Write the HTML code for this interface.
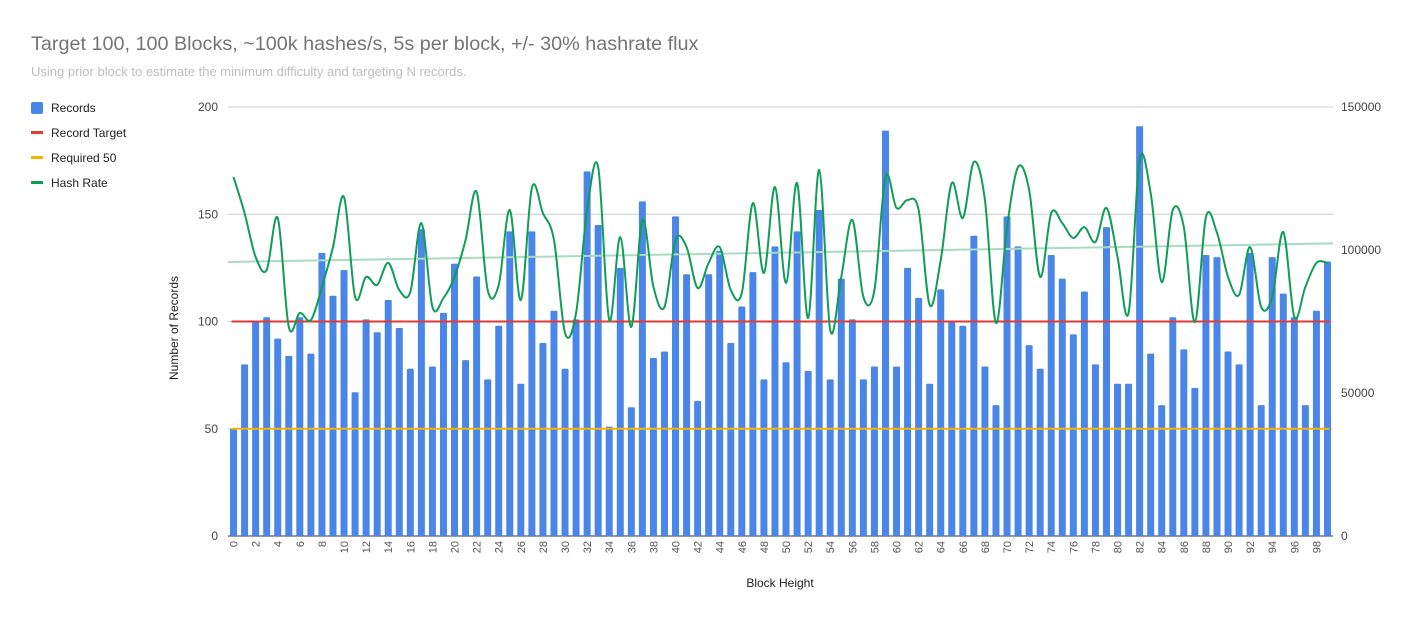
<!DOCTYPE html>
<html><head><meta charset="utf-8">
<style>
body{margin:0;background:#fff;font-family:"Liberation Sans",Arial,sans-serif;}
svg{display:block}
</style></head>
<body>
<svg id="chart" width="1413" height="621" xmlns="http://www.w3.org/2000/svg">
<text x="31" y="50" font-size="19.8" fill="#757575">Target 100, 100 Blocks, ~100k hashes/s, 5s per block, +/- 30% hashrate flux</text>
<text x="31" y="76" font-size="13" fill="#bdbdbd">Using prior block to estimate the minimum difficulty and targeting N records.</text>
<g>
 <g><rect x="31" y="102" width="12" height="12" rx="2" fill="#4a86e8"/><text x="51" y="112" font-size="12" fill="#222">Records</text></g>
 <g><rect x="31" y="131" width="12" height="3" fill="#e53935"/><text x="51" y="137" font-size="12" fill="#222">Record Target</text></g>
 <g><rect x="31" y="156" width="12" height="3" fill="#f4b400"/><text x="51" y="162" font-size="12" fill="#222">Required 50</text></g>
 <g><rect x="31" y="181" width="12" height="3" fill="#0f9d58"/><text x="51" y="187" font-size="12" fill="#222">Hash Rate</text></g>
</g>
<text transform="translate(178,328) rotate(-90)" text-anchor="middle" font-size="12" fill="#222">Number of Records</text>
<text x="780" y="587" text-anchor="middle" font-size="12" fill="#222">Block Height</text>
<g id="grid"></g><g id="bars"></g><g id="lines"></g><g id="labels"></g>
</svg>
<script>
const records=[50,80,100,102,92,84,102,85,132,112,124,67,101,95,110,97,78,143,79,104,127,82,121,73,98,142,71,142,90,105,78,101,170,145,51,125,60,156,83,86,149,122,63,122,133,90,107,123,73,135,81,142,77,152,73,120,101,73,79,189,79,125,111,71,115,100,98,140,79,61,149,135,89,78,131,120,94,114,80,144,71,71,191,85,61,102,87,69,131,130,86,80,132,61,130,113,102,61,105,128];
const hashRate=[125500,112900,97550,93000,111200,73100,78000,75500,87100,101000,118500,83600,90600,87800,95500,86000,85300,109400,80100,83200,90600,103500,120300,86000,87800,114000,82500,121700,112900,103500,71000,78000,114000,129000,75500,104500,73100,110500,87100,80100,103500,101000,86700,95500,101000,86000,85000,116400,92000,122000,88500,123400,76200,128000,72000,90600,110500,83600,86000,125500,114700,117500,114000,80800,96500,123400,111200,130800,117500,74500,108000,129000,121000,90600,112900,109400,104200,108000,102800,114700,97550,78000,131500,119900,88800,114000,108000,74800,111500,106000,90600,84300,101000,80100,83600,106300,76600,87100,95500,95500];
const leftTicks=[0,50,100,150,200];
const rightTicks=[0,50000,100000,150000];
const recordTarget=100, required=50;
const NS="http://www.w3.org/2000/svg";
const X0=228,X1=1333,Y0=536,Y1=107;
const step=(X1-X0)/records.length;
const xc=i=>X0+step*(i+0.5);
const yL=v=>Y0-(v/200)*(Y0-Y1);
const yR=v=>Y0-(v/150000)*(Y0-Y1);
function mk(tag,attrs,parent){const e=document.createElementNS(NS,tag);for(const k in attrs)e.setAttribute(k,attrs[k]);document.getElementById(parent).appendChild(e);return e;}
leftTicks.forEach(t=>{
 const l=mk('line',{x1:X0,x2:X1,y1:yL(t),y2:yL(t),stroke:t===0?'#333':'#ccc','stroke-width':1},'grid');
 
 
 const tx=mk('text',{x:218,y:yL(t)+4,'text-anchor':'end','font-size':12,fill:'#444'},'labels');tx.textContent=t;
 
 
});
rightTicks.forEach(t=>{
 const tx=mk('text',{x:1341,y:yR(t)+4,'font-size':12,fill:'#444'},'labels');tx.textContent=t;
 
 
});
records.forEach((v,i)=>{
 const r=mk('rect',{x:xc(i)-3.5,y:yL(v),width:7,height:Y0-yL(v),fill:'#4a86e8',rx:1},'bars');
 
 
 if(i%2===0){const tx=mk('text',{transform:`translate(${xc(i)+4},541) rotate(-90)`,'text-anchor':'end','font-size':11,fill:'#555'},'labels');tx.textContent=i;
 
 }
});
const n=hashRate.length;let sx=0,sy=0,sxy=0,sxx=0;
hashRate.forEach((v,i)=>{sx+=i;sy+=v;sxy+=i*v;sxx+=i*i;});
const b=(n*sxy-sx*sy)/(n*sxx-sx*sx),a=(sy-b*sx)/n;
const tr=mk('line',{x1:X0,x2:X1,y1:yR(a+b*(-0.5)),y2:yR(a+b*(n-0.5)),stroke:'#a8dcc0','stroke-width':2},'lines');


const rt=mk('line',{x1:xc(0)-2,x2:xc(n-1)+2,y1:yL(recordTarget),y2:yL(recordTarget),stroke:'#e53935','stroke-width':2},'lines');


const rq=mk('line',{x1:xc(0)-2,x2:xc(n-1)+2,y1:yL(required),y2:yL(required),stroke:'#f4b400','stroke-width':2},'lines');


const P=hashRate.map((v,i)=>[xc(i),yR(v)]);
let d=`M${P[0][0]},${P[0][1]}`;
for(let i=0;i<P.length-1;i++){const p0=P[Math.max(0,i-1)],p1=P[i],p2=P[i+1],p3=P[Math.min(P.length-1,i+2)];
 d+=` C${p1[0]+(p2[0]-p0[0])/6},${p1[1]+(p2[1]-p0[1])/6} ${p2[0]-(p3[0]-p1[0])/6},${p2[1]-(p3[1]-p1[1])/6} ${p2[0]},${p2[1]}`;}
const hl=mk('path',{d:d,fill:'none',stroke:'#0f9d58','stroke-width':2},'lines');


</script>
</body></html>
